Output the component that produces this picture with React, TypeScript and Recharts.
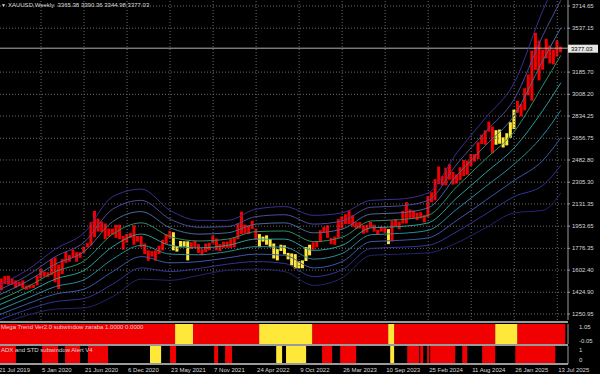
import { Area, Bar, Cell, ComposedChart, Line, ReferenceLine, XAxis, YAxis } from 'recharts';

const FONT = '"Liberation Sans", Arial, sans-serif';

// two-week candles from 21 Jul 2019 (one entry = 2 weeks)
const candleStep = 2;
const candleLows = [
  1400, 1440, 1490, 1485, 1485, 1460, 1475, 1455, 1445, 1455,
  1460, 1480, 1535, 1550, 1548, 1563, 1505, 1451, 1570, 1660,
  1670, 1700, 1670, 1700, 1740, 1785, 1800, 1865, 1910, 1905,
  1850, 1870, 1885, 1860, 1850, 1765, 1820, 1860, 1805, 1830,
  1785, 1730, 1677, 1710, 1677, 1730, 1760, 1810, 1855, 1760,
  1750, 1785, 1790, 1680, 1770, 1785, 1740, 1720, 1745, 1760,
  1815, 1760, 1755, 1780, 1780, 1780, 1785, 1850, 1890, 1895,
  1890, 1930, 1850, 1785, 1830, 1805, 1785, 1695, 1680, 1755,
  1728, 1688, 1640, 1615, 1617, 1617, 1675, 1720, 1765, 1785,
  1825, 1900, 1860, 1810, 1805, 1860, 1935, 1970, 1970, 1950,
  1932, 1935, 1893, 1902, 1942, 1910, 1885, 1910, 1900, 1810,
  1830, 1953, 1930, 1975, 1975, 2015, 2013, 2002, 2015, 1984,
  2025, 2145, 2160, 2290, 2280, 2280, 2325, 2285, 2295, 2320,
  2355, 2365, 2435, 2470, 2490, 2610, 2605, 2710, 2537, 2605,
  2613, 2583, 2600, 2660, 2730, 2860, 2832, 2880, 3000, 2957,
  3202, 3120, 3205, 3295, 3255, 3247, 3310, 3345,
];
const candleHighs = [
  1450, 1535, 1555, 1557, 1535, 1520, 1510, 1520, 1478, 1485,
  1485, 1555, 1611, 1590, 1585, 1690, 1703, 1645, 1690, 1748,
  1722, 1765, 1745, 1745, 1790, 1818, 1985, 2075, 2015, 1990,
  1975, 1935, 1933, 1965, 1965, 1875, 1890, 1900, 1960, 1875,
  1875, 1815, 1760, 1755, 1760, 1797, 1845, 1890, 1916, 1905,
  1795, 1835, 1833, 1832, 1825, 1835, 1810, 1770, 1815, 1820,
  1878, 1855, 1810, 1830, 1830, 1850, 1865, 1975, 2070, 1966,
  1960, 1998, 1935, 1890, 1870, 1880, 1850, 1815, 1770, 1805,
  1800, 1740, 1735, 1730, 1675, 1680, 1787, 1805, 1825, 1833,
  1922, 1949, 1960, 1860, 1870, 2010, 2032, 2049, 2080, 2040,
  1985, 1985, 1960, 1965, 1988, 1965, 1925, 1953, 1947, 1930,
  1997, 2010, 1990, 2075, 2146, 2088, 2079, 2060, 2065, 2041,
  2195, 2225, 2330, 2431, 2355, 2420, 2450, 2388, 2368, 2425,
  2483, 2477, 2531, 2530, 2625, 2685, 2720, 2790, 2750, 2721,
  2726, 2664, 2697, 2785, 2886, 2956, 2930, 3057, 3167, 3358,
  3500, 3438, 3365, 3452, 3398, 3366, 3439, 3390,
];

// envelope lines, sampled every 16 weeks
const bandWeeks = [0, 16, 32, 48, 64, 80, 96, 112, 128, 144, 160, 176, 192, 208, 224, 240, 256, 272, 288, 304, 314];
const bandUp4 = [1480, 1600, 1770, 1900, 2190, 2250, 2080, 2000, 2000, 2090, 2110, 2040, 2060, 2160, 2170, 2220, 2540, 2820, 3100, 3680, 3980];
const bandUp3 = [1440, 1555, 1710, 1825, 2090, 2160, 2010, 1945, 1950, 2030, 2045, 1970, 1995, 2105, 2115, 2160, 2450, 2710, 2970, 3480, 3760];
const bandUp2 = [1400, 1510, 1650, 1750, 1990, 2070, 1940, 1890, 1900, 1970, 1980, 1900, 1930, 2050, 2060, 2100, 2360, 2600, 2840, 3280, 3540];
const bandUp1 = [1360, 1465, 1590, 1675, 1890, 1980, 1870, 1835, 1850, 1910, 1915, 1830, 1865, 1995, 2005, 2040, 2270, 2490, 2710, 3080, 3320];
const bandMid = [1320, 1420, 1530, 1600, 1790, 1890, 1800, 1780, 1800, 1850, 1850, 1760, 1800, 1940, 1950, 1980, 2180, 2380, 2580, 2880, 3100];
const bandDn1 = [1280, 1375, 1470, 1525, 1690, 1800, 1730, 1725, 1750, 1790, 1785, 1690, 1735, 1885, 1895, 1920, 2090, 2270, 2450, 2680, 2880];
const bandDn2 = [1240, 1330, 1410, 1450, 1590, 1710, 1660, 1670, 1700, 1730, 1720, 1620, 1670, 1830, 1840, 1860, 2000, 2160, 2320, 2480, 2660];
const bandDn3 = [1200, 1285, 1350, 1375, 1490, 1620, 1590, 1615, 1650, 1670, 1655, 1550, 1605, 1775, 1785, 1800, 1910, 2050, 2190, 2280, 2440];
const bandDn4 = [1160, 1240, 1290, 1300, 1390, 1530, 1520, 1560, 1600, 1610, 1590, 1480, 1540, 1720, 1730, 1740, 1820, 1940, 2060, 2080, 2220];

const bands = [
  { key: 'up4', values: bandUp4, color: '#3a2f90' },
  { key: 'up3', values: bandUp3, color: '#4c4c9a' },
  { key: 'up2', values: bandUp2, color: '#4a6a9a' },
  { key: 'up1', values: bandUp1, color: '#2f8f6a' },
  { key: 'mid', values: bandMid, color: '#2aa09a' },
  { key: 'dn1', values: bandDn1, color: '#2a8a9a' },
  { key: 'dn2', values: bandDn2, color: '#3a5aa8' },
  { key: 'dn3', values: bandDn3, color: '#33339a' },
  { key: 'dn4', values: bandDn4, color: '#242470' },
];

const priceTicks = [3714.65, 3537.15, 3185.7, 3008.2, 2834.25, 2656.75, 2482.8, 2305.3, 2131.35, 1953.65, 1776.35, 1602.4, 1424.9, 1250.95];
const bidPrice = 3377.03;
const titleText = 'XAUUSD,Weekly  3365.38 3390.36 3344.98 3377.03';

const dateTicks = [0, 24, 48, 72, 96, 120, 144, 168, 192, 216, 240, 264, 288, 312];
const dateLabels = ['21 Jul 2019', '5 Jan 2020', '21 Jun 2020', '6 Dec 2020', '23 May 2021', '7 Nov 2021', '24 Apr 2022', '9 Oct 2022', '26 Mar 2023', '10 Sep 2023', '25 Feb 2024', '11 Aug 2024', '26 Jan 2025', '13 Jul 2025'];

// Mega Trend subwindow: segment edges in weeks and state
const megaStart = [0, 98.8, 108.8, 145.7, 175.3, 217.7, 221, 277.4, 289.7];
const megaEnd = [98.8, 108.8, 145.7, 175.3, 217.7, 221, 277.4, 289.7, 316.5];
const megaState = ['red', 'yellow', 'red', 'yellow', 'red', 'yellow', 'red', 'yellow', 'red'];

// ADX subwindow: coloured segments (black elsewhere)
const adxStart = [0, 24.6, 37.4, 50.2, 84.8, 96, 120.6, 126.7, 155.2, 160.7, 180.8, 190.9, 218.8, 228.3, 235.5, 239.4, 241.1, 259, 270.1, 288.6];
const adxEnd = [10, 33.5, 45.8, 61.4, 91, 99.3, 122.8, 130.6, 158.5, 171.9, 186.4, 199.8, 221, 235, 237.2, 240.5, 255.1, 261.8, 277.4, 310.9];
const adxState = ['red', 'red', 'red', 'red', 'yellow', 'red', 'red', 'red', 'yellow', 'yellow', 'red', 'red', 'yellow', 'red', 'red', 'red', 'red', 'red', 'red', 'red'];

const RED = '#f00000';
const YELLOW = '#ffe83a';
const GRID = '#6a6a6a';
const TEXT = '#d8d8d8';
const BORDER = '#9a9a9a';
const X_DOMAIN = [0, 318];
const Y_DOMAIN = [1202.96, 3762.6];

function stateAt(w: number, starts: number[], ends: number[], states: string[]) {
  for (let i = 0; i < starts.length; i++) {
    if (w >= starts[i] && w < ends[i]) return states[i];
  }
  return null;
}
const colorOf = (s: string | null) => (s === 'yellow' ? YELLOW : s === 'red' ? RED : '#000');

const rows = candleLows.map((low, i) => {
  const w = i * candleStep;
  const row: any = { w, range: [low, candleHighs[i]], color: colorOf(stateAt(w + 1, megaStart, megaEnd, megaState)) };
  const b = bandWeeks.indexOf(w);
  if (b >= 0) bands.forEach((band) => (row[band.key] = band.values[b]));
  return row;
});

// step rows for the indicator strips: one row at each segment edge
function stepRows(starts: number[], ends: number[], states: string[]) {
  const out: any[] = [];
  starts.forEach((s, i) => {
    out.push({ w: s, red: states[i] === 'red' ? 1 : 0, yellow: states[i] === 'yellow' ? 1 : 0 });
    if (starts[i + 1] !== ends[i]) out.push({ w: ends[i], red: 0, yellow: 0 });
  });
  return out;
}
const megaRows = stepRows(megaStart, megaEnd, megaState);
const adxRows = stepRows(adxStart, adxEnd, adxState);

function PriceTick(props: any) {
  const { x, y, payload } = props;
  if (payload.value === bidPrice) {
    return (
      <g>
        <rect x={x - 2} y={y - 3.5} width={30} height={8} fill="#e6e6e6" />
        <text x={x + 1} y={y + 2.5} fill="#000" fontSize={6} fontFamily={FONT}>
          {payload.value.toFixed(2)}
        </text>
      </g>
    );
  }
  return (
    <text x={x + 2} y={y + 2} fill={TEXT} fontSize={6} fontFamily={FONT}>
      {payload.value.toFixed(2)}
    </text>
  );
}

function DateTick(props: any) {
  const { x, y, index } = props;
  return (
    <text x={x + 1} y={y + 8} fill={TEXT} fontSize={6} fontFamily={FONT}>
      {dateLabels[index] ?? ''}
    </text>
  );
}

function SubTick(labels: Record<string, [string, number]>) {
  return (props: any) => {
    const { x, payload } = props;
    const entry = labels[String(payload.value)];
    if (!entry) return <g />;
    return (
      <text x={x + 3} y={entry[1]} fill={TEXT} fontSize={6} fontFamily={FONT}>
        {entry[0]}
      </text>
    );
  };
}

function StripAreas() {
  return [
    <Area key="r" dataKey="red" type="stepAfter" stroke="none" fill={RED} fillOpacity={1} baseValue={0} isAnimationActive={false} />,
    <Area key="y" dataKey="yellow" type="stepAfter" stroke="none" fill={YELLOW} fillOpacity={1} baseValue={0} isAnimationActive={false} />,
  ];
}

export default function App() {
  return (
    <div style={{ position: 'fixed', left: 0, top: 0, width: 600, height: 374, background: '#000', overflow: 'hidden', fontFamily: FONT }}>
      <div style={{ position: 'absolute', left: -2, top: 0 }}>
        <ComposedChart width={602} height={321} data={rows} margin={{ top: 0, right: 0, bottom: 1, left: 0 }}>
          <XAxis dataKey="w" type="number" domain={X_DOMAIN} allowDataOverflow hide />
          <YAxis
            orientation="right"
            type="number"
            domain={Y_DOMAIN}
            allowDataOverflow
            ticks={[...priceTicks, bidPrice]}
            interval={0}
            width={32}
            axisLine={{ stroke: BORDER }}
            tickLine={{ stroke: BORDER }}
            tickSize={2}
            tickMargin={0}
            tick={<PriceTick />}
          />
          {priceTicks.map((p) => (
            <ReferenceLine key={'h' + p} y={p} stroke={GRID} strokeDasharray="1 2" />
          ))}
          {dateTicks.slice(1).map((d) => (
            <ReferenceLine key={'v' + d} x={d} stroke={GRID} strokeDasharray="1 2" />
          ))}
          <ReferenceLine y={bidPrice} stroke="#b0b0b0" />
          {bands.map((band) => (
            <Line
              key={band.key}
              dataKey={band.key}
              type="monotone"
              stroke={band.color}
              strokeWidth={1}
              dot={false}
              connectNulls
              isAnimationActive={false}
            />
          ))}
          <Bar dataKey="range" barSize={3} isAnimationActive={false}>
            {rows.map((r) => (
              <Cell key={r.w} fill={r.color} />
            ))}
          </Bar>
        </ComposedChart>
      </div>

      <div style={{ position: 'absolute', left: 1, top: 1, color: TEXT, fontSize: 6, lineHeight: '8px', whiteSpace: 'pre' }}>
        <span style={{ fontSize: 5, marginRight: 2 }}>▼</span>
        {titleText}
      </div>

      <div style={{ position: 'absolute', left: 0, top: 321, width: 568, height: 2, background: BORDER }} />

      <div style={{ position: 'absolute', left: -2, top: 324 }}>
        <ComposedChart width={602} height={20} data={megaRows} margin={{ top: 0, right: 0, bottom: 0, left: 0 }}>
          <XAxis dataKey="w" type="number" domain={X_DOMAIN} allowDataOverflow hide />
          <YAxis
            orientation="right"
            type="number"
            domain={[0, 1]}
            ticks={[1, 0]}
            interval={0}
            width={32}
            axisLine={{ stroke: BORDER }}
            tickLine={false}
            tick={SubTick({ '1': ['1.05', 5], '0': ['-0.05', 19] })}
          />
          {StripAreas()}
        </ComposedChart>
      </div>
      <div style={{ position: 'absolute', left: 1, top: 324, color: TEXT, fontSize: 6, lineHeight: '7px', whiteSpace: 'pre' }}>
        Mega Trend Ver2.0 subwindow zaraba 1.0000 0.0000
      </div>

      <div style={{ position: 'absolute', left: 0, top: 344, width: 568, height: 2, background: BORDER }} />

      <div style={{ position: 'absolute', left: -2, top: 346 }}>
        <ComposedChart width={602} height={28} data={adxRows} margin={{ top: 0, right: 0, bottom: 0, left: 0 }}>
          <XAxis
            dataKey="w"
            type="number"
            domain={X_DOMAIN}
            allowDataOverflow
            ticks={dateTicks}
            interval={0}
            height={10}
            axisLine={{ stroke: BORDER, strokeWidth: 2 }}
            tickLine={false}
            tickSize={0}
            tickMargin={0}
            tick={<DateTick />}
          />
          <YAxis
            orientation="right"
            type="number"
            domain={[0, 1]}
            ticks={[1, 0]}
            interval={0}
            width={32}
            axisLine={{ stroke: BORDER }}
            tickLine={false}
            tick={SubTick({ '1': ['1', 6], '0': ['0', 16] })}
          />
          {StripAreas()}
        </ComposedChart>
      </div>
      <div style={{ position: 'absolute', left: 1, top: 347, color: TEXT, fontSize: 6, lineHeight: '7px', whiteSpace: 'pre' }}>
        ADX and STD subwindow Alert V4
      </div>
    </div>
  );
}
